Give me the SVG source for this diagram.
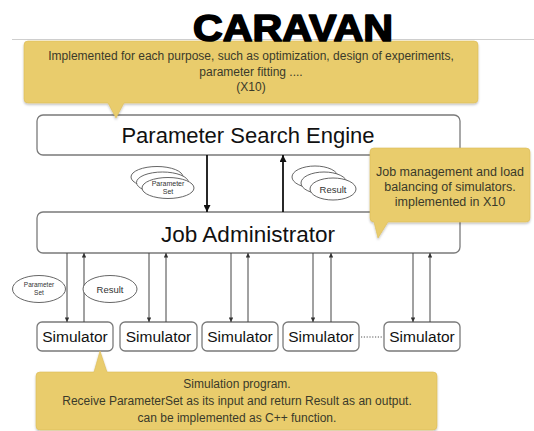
<svg xmlns="http://www.w3.org/2000/svg" width="534" height="431" viewBox="0 0 534 431">
<defs>
<style>
.box{fill:#fff;stroke:#7a7a7a;stroke-width:1.3}
.call{fill:#E9CC6C;stroke:#dcbc58;stroke-width:0.6;filter:url(#sh)}
.ct{font-family:"Liberation Sans",Arial,sans-serif;font-size:12px;fill:#3a3a2a;text-anchor:middle}
.cj{font-size:12.5px}
.bt{font-family:"Liberation Sans",Arial,sans-serif;fill:#111;text-anchor:middle}
.ell{fill:#fff;stroke:#555;stroke-width:0.9}
.et{font-family:"Liberation Sans",Arial,sans-serif;fill:#333;text-anchor:middle}
.big{stroke:#111;stroke-width:1.8;fill:none}
.sm{stroke:#444;stroke-width:1;fill:none}
</style>
<filter id="sh" x="-5%" y="-10%" width="110%" height="130%">
<feDropShadow dx="0" dy="1.5" stdDeviation="1.2" flood-color="#000" flood-opacity="0.25"/>
</filter>
<marker id="ab" viewBox="0 0 10 10" refX="10" refY="5" markerWidth="9" markerHeight="7" orient="auto" markerUnits="userSpaceOnUse">
<path d="M0,0 L10,5 L0,10 z" fill="#111"/>
</marker>
<marker id="as" viewBox="0 0 10 10" refX="10" refY="5" markerWidth="6" markerHeight="4.5" orient="auto" markerUnits="userSpaceOnUse">
<path d="M0,0 L10,5 L0,10 z" fill="#333"/>
</marker>
</defs>
<rect width="534" height="431" fill="#fff"/>
<line x1="12" y1="39.5" x2="534" y2="39.5" stroke="#cfcfcf" stroke-width="1"/>

<g id="pse">
<rect class="box" x="37" y="115" width="423" height="40" rx="6"/>
<text class="bt" x="248" y="143" font-size="22">Parameter Search Engine</text>
</g>
<g id="ja">
<rect class="box" x="37" y="212" width="423" height="41" rx="6"/>
<text class="bt" x="248" y="242" font-size="22.5">Job Administrator</text>
</g>

<g id="sims">
<g id="sim1"><rect class="box" x="37" y="322" width="76" height="29" rx="5"/><text class="bt" x="75" y="342" font-size="15.5">Simulator</text></g>
<g id="sim2"><rect class="box" x="120" y="322" width="77" height="29" rx="5"/><text class="bt" x="158.5" y="342" font-size="15.5">Simulator</text></g>
<g id="sim3"><rect class="box" x="202" y="322" width="76" height="29" rx="5"/><text class="bt" x="240" y="342" font-size="15.5">Simulator</text></g>
<g id="sim4"><rect class="box" x="283" y="322" width="76" height="29" rx="5"/><text class="bt" x="321" y="342" font-size="15.5">Simulator</text></g>
<g id="sim5"><rect class="box" x="384" y="322" width="76" height="29" rx="5"/><text class="bt" x="422" y="342" font-size="15.5">Simulator</text></g>
</g>

<g id="connectors">
<line class="big" x1="207" y1="155" x2="207" y2="212" marker-end="url(#ab)"/>
<line class="big" x1="283" y1="212" x2="283" y2="155" marker-end="url(#ab)"/>
<line class="sm" x1="67" y1="253" x2="67" y2="322" marker-end="url(#as)"/>
<line class="sm" x1="84" y1="322" x2="84" y2="253" marker-end="url(#as)"/>
<line class="sm" x1="149" y1="253" x2="149" y2="322" marker-end="url(#as)"/>
<line class="sm" x1="166" y1="322" x2="166" y2="253" marker-end="url(#as)"/>
<line class="sm" x1="231" y1="253" x2="231" y2="322" marker-end="url(#as)"/>
<line class="sm" x1="248" y1="322" x2="248" y2="253" marker-end="url(#as)"/>
<line class="sm" x1="313" y1="253" x2="313" y2="322" marker-end="url(#as)"/>
<line class="sm" x1="331" y1="322" x2="331" y2="253" marker-end="url(#as)"/>
<line class="sm" x1="413" y1="253" x2="413" y2="322" marker-end="url(#as)"/>
<line class="sm" x1="430" y1="322" x2="430" y2="253" marker-end="url(#as)"/>
<line x1="361" y1="337" x2="382" y2="337" stroke="#555" stroke-width="1" stroke-dasharray="1.2,1.6"/>
</g>

<g id="paramset-stack">
<ellipse class="ell" cx="157" cy="177" rx="26" ry="10.5"/>
<ellipse class="ell" cx="162.5" cy="182.5" rx="26" ry="10.5"/>
<ellipse class="ell" cx="168" cy="188" rx="26" ry="10.5"/>
<text class="et" x="168" y="186" font-size="7">Parameter</text>
<text class="et" x="168" y="194" font-size="7">Set</text>
</g>
<g id="result-stack">
<ellipse class="ell" cx="315" cy="177" rx="23" ry="11"/>
<ellipse class="ell" cx="324" cy="183" rx="23" ry="11"/>
<ellipse class="ell" cx="333" cy="189" rx="23" ry="11"/>
<text class="et" x="333" y="192.5" font-size="9.5">Result</text>
</g>
<g id="paramset">
<ellipse class="ell" cx="39" cy="289" rx="26.5" ry="13.5"/>
<text class="et" x="39" y="287" font-size="6.5">Parameter</text>
<text class="et" x="39" y="295" font-size="6.5">Set</text>
</g>
<g id="result">
<ellipse class="ell" cx="110" cy="289" rx="27" ry="13.5"/>
<text class="et" x="110" y="292.5" font-size="9.5">Result</text>
</g>

<g id="callout-top">
<path class="call" d="M28,41 H474 Q478,41 478,45 V99 Q478,103 474,103 H124 L116,118 L108,103 H28 Q24,103 24,99 V45 Q24,41 28,41 Z"/>
<text class="ct" x="251" y="60">Implemented for each purpose, such as optimization, design of experiments,</text>
<text class="ct" x="251" y="76">parameter fitting ....</text>
<text class="ct" x="251" y="91">(X10)</text>
</g>
<g id="callout-job">
<path class="call" d="M374,148 H526 Q530,148 530,152 V218 Q530,222 526,222 H388 L378,238 L374,222 Q370,222 370,218 V152 Q370,148 374,148 Z"/>
<text class="ct cj" x="450" y="176">Job management and load</text>
<text class="ct cj" x="450" y="191">balancing of simulators.</text>
<text class="ct cj" x="450" y="206">implemented in X10</text>
</g>
<g id="callout-sim">
<path class="call" d="M40,372 H94 L100,351 L107,372 H433 Q437,372 437,376 V426 Q437,430 433,430 H40 Q36,430 36,426 V376 Q36,372 40,372 Z"/>
<text class="ct" x="237" y="388">Simulation program.</text>
<text class="ct" x="237" y="405">Receive ParameterSet as its input and return Result as an output.</text>
<text class="ct" x="237" y="422">can be implemented as C++ function.</text>
</g>

<g id="title">
<text x="293" y="41" font-family="'Liberation Sans',Arial,sans-serif" font-weight="bold" font-size="37" text-anchor="middle" textLength="200" lengthAdjust="spacingAndGlyphs" fill="#000" stroke="#000" stroke-width="1.6" stroke-linejoin="round">CARAVAN</text>
</g>
</svg>
